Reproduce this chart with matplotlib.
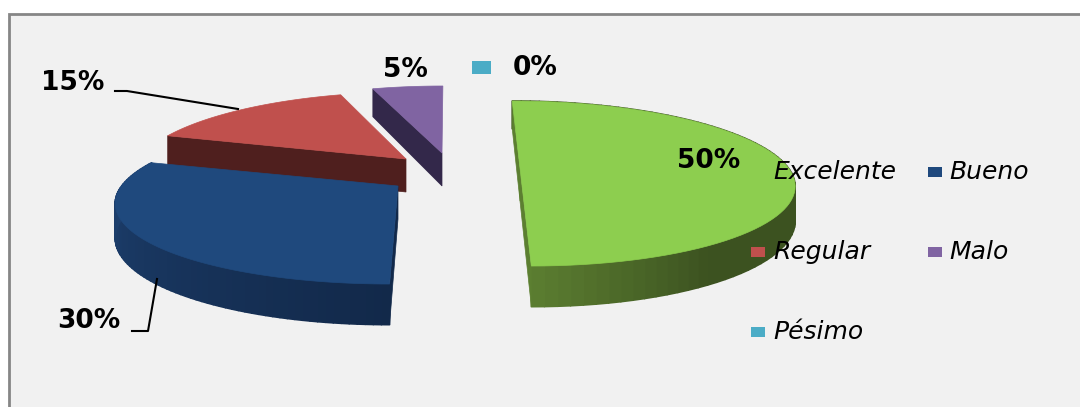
import numpy as np
import matplotlib
matplotlib.use('Agg')
import matplotlib.pyplot as plt
from matplotlib.patches import Polygon, Rectangle
from matplotlib.collections import PolyCollection
from matplotlib.colors import to_rgb

# Datos del grafico
categorias = ['Excelente', 'Bueno', 'Regular', 'Malo', 'Pésimo']
valores = [50, 30, 15, 5, 0]
etiquetas = ['50%', '30%', '15%', '5%', '0%']

colores = ['#8DCE4F', '#1F497D', '#C0504D', '#8064A2', '#4BACC6']
# color de la pared: inicio (angulo final de la rebanada) y fin (angulo inicial)
pared_a = ['#3C5220', '#1D406F', '#4F1F1E', '#33284A', '#4BACC6']
pared_b = ['#5C7F31', '#12294A', '#4F1F1E', '#33284A', '#4BACC6']
cara = ['#5C7F31', '#12294A', '#4F1F1E', '#33284A', '#4BACC6']

# Posicion de cada rebanada separada (vertice en pixeles) y su escala
vertices = [(520, 168), (398, 186), (406, 159), (442, 153), (442, 153)]
escala = [1.005, 1.035, 1.0, 1.0, 1.0]

A, B, K, PROF = 267, 79.6, 0.188, 33
XV = 450


def proyectar(vertice, esc, theta):
    # theta en grados, horario desde arriba; perspectiva sencilla
    t = np.radians(theta)
    X, Y = np.sin(t) * esc, np.cos(t)
    g = 1 / (1 + K * Y)
    x = vertice[0] + 0.7 * (vertice[0] - XV) * (g - 1) + A * X * g
    y = vertice[1] - B * Y * g
    return x, y, PROF * g


def mezcla(c1, c2, u):
    c1, c2 = np.array(to_rgb(c1)), np.array(to_rgb(c2))
    return tuple(c1 + (c2 - c1) * u)


fig = plt.figure(figsize=(10.8, 4.07), dpi=100, facecolor='white')
ax = fig.add_axes([0, 0, 1, 1])
ax.set_xlim(0, 1080)
ax.set_ylim(407, 0)
ax.axis('off')

# Fondo con borde gris arriba e izquierda
ax.add_patch(Rectangle((9, 14), 1080, 400, facecolor='#F1F1F1', edgecolor='#868686', lw=2, zorder=0))

# Angulos acumulados
acum = np.cumsum([0] + valores) * 360 / 100
# se dibuja de atras hacia adelante
orden = [3, 2, 1, 0]
z = 1
for i in orden:
    ini, fin = acum[i], acum[i + 1]
    v = vertices[i]
    th = np.linspace(ini, fin, 80)
    pts = [proyectar(v, escala[i], a) for a in th]
    xs = np.array([p[0] for p in pts])
    ys = np.array([p[1] for p in pts])
    ds = np.array([p[2] for p in pts])

    # pared exterior en degradado, las rebanadas de atras no la muestran
    if i < 2:
        polis, tonos = [], []
        for j in range(len(th) - 1):
            if i == 0:
                u = np.clip((th[j] - 145) / 35, 0, 1)
            else:
                u = np.clip((270 - th[j]) / 90, 0, 1)
            tonos.append(mezcla(pared_a[i], pared_b[i], u))
            polis.append([(xs[j], ys[j]), (xs[j + 1], ys[j + 1]),
                          (xs[j + 1], ys[j + 1] + ds[j + 1]), (xs[j], ys[j] + ds[j])])
        ax.add_collection(PolyCollection(polis, facecolors=tonos, edgecolors=tonos, linewidths=1.2, zorder=z))

    # caras del corte, solo las que se ven
    caras = [0, -1] if i == 0 else [0]
    for k in caras:
        cuad = [v, (xs[k], ys[k]), (xs[k], ys[k] + ds[k]), (v[0], v[1] + PROF)]
        ax.add_patch(Polygon(cuad, closed=True, facecolor=cara[i], edgecolor=cara[i], lw=0.5, zorder=z))

    # tapa
    tapa = [v] + list(zip(xs, ys))
    ax.add_patch(Polygon(tapa, closed=True, facecolor=colores[i], edgecolor=colores[i], lw=0.5, zorder=z + 1))
    z += 2

# Lineas guia
ax.plot([115, 127, 238], [91, 91, 109], color='black', lw=1.5, zorder=20)
ax.plot([132, 148, 157], [331, 331, 279], color='black', lw=1.5, zorder=20)

# Etiquetas
fuente = dict(family='DejaVu Sans', fontweight='bold', fontsize=19, color='black', ha='center', va='center', zorder=21)
pos_etiquetas = [(709, 161), (89, 321), (73, 83), (405, 70), (535, 68)]
for texto, (x, y) in zip(etiquetas, pos_etiquetas):
    ax.text(x, y, texto, **fuente)
ax.add_patch(Rectangle((472, 61), 19, 13, facecolor=colores[4], edgecolor='none', zorder=21))

# Leyenda
pos_leyenda = [(751, 172), (928, 172), (751, 252), (928, 252), (751, 332)]
for nombre, color, (x, y) in zip(categorias, colores, pos_leyenda):
    ax.add_patch(Rectangle((x, y - 5), 14, 10, facecolor=color, edgecolor='none', zorder=21))
    ax.text(x + 22 if x < 800 else x + 21, y, nombre, family='DejaVu Sans', style='oblique', fontsize=18,
            color='black', ha='left', va='center', zorder=21)

fig.savefig('out.png', dpi=100)
